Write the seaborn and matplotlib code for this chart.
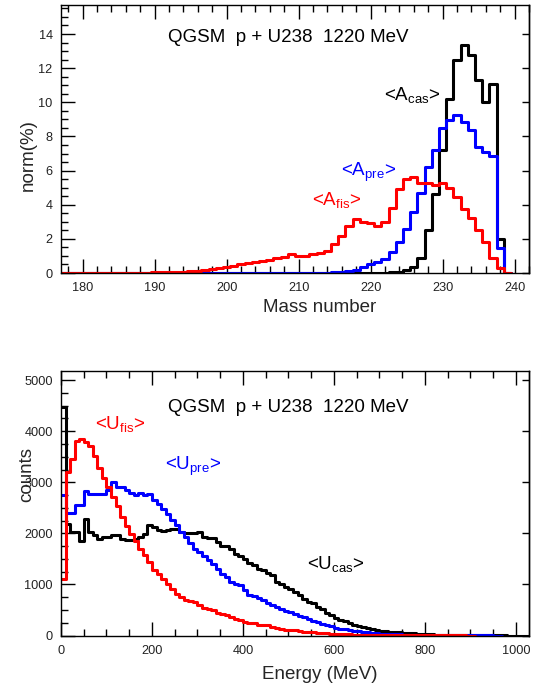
import numpy as np
import pandas as pd
import matplotlib
matplotlib.use("Agg")
import matplotlib.pyplot as plt
import seaborn as sns
from matplotlib.ticker import MultipleLocator

# ---------------- data: top panel (mass distributions, % per unit mass) ----------
mass_centres = list(range(177, 240))          # bin centres, bin width 1
a_fis = [0.0, 0.0, 0.0, 0.0, 0.0, 0.0, 0.0, 0.0, 0.0,              # 177-185
         0.01, 0.01, 0.02, 0.02, 0.03, 0.03, 0.04, 0.05, 0.07, 0.10,  # 186-195
         0.14, 0.18, 0.25, 0.30, 0.37, 0.43, 0.50, 0.56, 0.63, 0.70,  # 196-205
         0.78, 0.86, 0.95, 1.10, 1.02, 1.01, 1.09, 1.15, 1.30, 1.70,  # 206-215
         2.15, 2.75, 3.14, 3.00, 2.90, 2.75, 3.00, 3.80, 4.90, 5.50,  # 216-225
         5.64, 5.30, 5.25, 5.15, 5.25, 4.96, 4.47, 3.75, 3.25, 2.52,  # 226-235
         1.80, 0.88, 0.30, 0.0]                                       # 236-239
a_pre = [0.0] * 36 + [                                                # 177-212
         0.01, 0.02, 0.03, 0.06, 0.12, 0.20, 0.33, 0.50, 0.62, 0.80,  # 213-222
         1.25, 1.83, 2.60, 3.60, 4.70, 6.20, 7.20, 8.50, 8.96, 9.25,  # 223-232
         8.87, 8.40, 7.40, 7.10, 6.85, 1.45, 0.0]                     # 233-239
a_cas = [0.0] * 44 + [                                                # 177-220
         0.01, 0.02, 0.04, 0.08, 0.15, 0.35, 0.90, 2.50, 4.60, 7.20,  # 221-230
         10.2, 12.5, 13.35, 12.8, 11.3, 10.0, 11.1, 2.0, 0.0]         # 231-239

# ---------------- data: bottom panel (excitation energy, counts per 10 MeV) -------
energy_bin = 10
u_fis = [1100, 3200, 3450, 3800, 3850, 3780, 3720, 3520, 3280, 3080,   # 0-90
         2900, 2720, 2540, 2330, 2150, 1980, 1860, 1700, 1570, 1440,   # 100-190
         1280, 1210, 1110, 1010, 915, 820, 755, 700, 670, 660,         # 200-290
         590, 545, 520, 490, 440, 420, 400, 360, 320, 295,             # 300-390
         265, 250, 240, 200, 205, 200, 165, 150, 130, 115,             # 400-490
         110, 100, 85, 75, 68, 60, 52, 45, 40, 35,                     # 500-590
         30, 27, 23, 20, 17, 15, 13, 11, 10, 9,                        # 600-690
         8, 7, 6, 5, 5, 4, 4, 3, 3, 3,                                 # 700-790
         2, 2, 2, 1, 1, 1, 1, 1, 1, 0,                                 # 800-890
         0]                                                            # 900
u_pre = [2745, 2390, 2390, 2560, 2560, 2830, 2765, 2765, 2780, 2765,   # 0-90
         2843, 3006, 2910, 2910, 2843, 2800, 2745, 2800, 2745, 2780,   # 100-190
         2660, 2580, 2484, 2373, 2255, 2157, 2026, 1928, 1810, 1700,   # 200-290
         1634, 1560, 1480, 1405, 1307, 1209, 1144, 1046, 1010, 980,    # 300-390
         882, 800, 770, 740, 686, 640, 590, 560, 523, 480,             # 400-490
         457, 425, 390, 360, 327, 290, 260, 229, 200, 180,             # 500-590
         150, 135, 120, 105, 92, 80, 70, 60, 52, 45,                   # 600-690
         39, 33, 28, 24, 20, 17, 14, 12, 10, 8,                        # 700-790
         7, 6, 5, 4, 3, 3, 2, 2, 2, 1,                                 # 800-890
         1, 1, 1, 1, 1, 0, 0]                                          # 900-960
u_cas = [4470, 2190, 2026, 2026, 1850, 2288, 2026, 1960, 1895, 1928,   # 0-90
         1928, 1974, 1974, 1895, 1876, 1876, 1895, 1928, 1993, 2170,   # 100-190
         2124, 2059, 2050, 2059, 2085, 2080, 2030, 2007, 2007, 2007,   # 200-290
         2030, 1928, 1900, 1900, 1830, 1745, 1745, 1700, 1588, 1549,   # 300-390
         1500, 1420, 1373, 1307, 1280, 1222, 1180, 1046, 1000, 948,    # 400-490
         920, 850, 800, 720, 654, 630, 556, 510, 450, 400,             # 500-590
         350, 310, 280, 240, 215, 190, 165, 145, 120, 105,             # 600-690
         95, 85, 75, 68, 60, 52, 45, 40, 35, 30,                       # 700-790
         26, 22, 18, 15, 12, 10, 8, 7, 6, 5,                           # 800-890
         4, 3, 3, 2, 2, 1, 1, 1, 0, 0,                                 # 900-990
         0, 0, 0]                                                      # 1000-1020

title_text = "QGSM  p + U238  1220 MeV"

# ---------------- style ----------------
sns.set_theme(style="white")
plt.rcParams["font.family"] = ["Liberation Sans", "DejaVu Sans"]
plt.rcParams["mathtext.fontset"] = "custom"
plt.rcParams["mathtext.rm"] = "Liberation Sans"
plt.rcParams["mathtext.it"] = "Liberation Sans"
plt.rcParams["mathtext.default"] = "regular"

W, H = 542, 691
fig = plt.figure(figsize=(W / 100, H / 100), dpi=100)
fig.patch.set_facecolor("white")

ax1 = fig.add_axes([61 / W, 1 - 273 / H, 468 / W, 268 / H])
ax2 = fig.add_axes([61 / W, 1 - 635.5 / H, 468 / W, 264.5 / H])

LW = 2.2


def draw_hist(ax, centres, width, values, color):
    centres = np.asarray(centres, dtype=float)
    df = pd.DataFrame({"x": centres, "w": np.asarray(values, dtype=float)})
    lo = float(centres[0] - width / 2.0)
    hi = float(centres[-1] + width / 2.0)
    sns.histplot(data=df, x="x", weights="w", binwidth=width,
                 binrange=(lo, hi), element="step", fill=False,
                 color=color, linewidth=LW, ax=ax)


# top panel
draw_hist(ax1, mass_centres, 1.0, a_cas, "black")
draw_hist(ax1, mass_centres, 1.0, a_pre, "#0000ff")
draw_hist(ax1, mass_centres, 1.0, a_fis, "#ff0000")

# bottom panel
e_fis = np.arange(len(u_fis)) * energy_bin + energy_bin / 2
e_pre = np.arange(len(u_pre)) * energy_bin + energy_bin / 2
e_cas = np.arange(len(u_cas)) * energy_bin + energy_bin / 2
draw_hist(ax2, e_cas, energy_bin, u_cas, "black")
draw_hist(ax2, e_pre, energy_bin, u_pre, "#0000ff")
draw_hist(ax2, e_fis, energy_bin, u_fis, "#ff0000")

ax1.set_xlim(177, 242)
ax1.set_ylim(0, 15.7)
ax2.set_xlim(0, 1029)
ax2.set_ylim(0, 5180)


def style_axes(ax, xmaj, xmin, ymaj, ymin):
    for sp in ax.spines.values():
        sp.set_visible(True)
        sp.set_color("black")
        sp.set_linewidth(1.0)
    ax.xaxis.set_major_locator(MultipleLocator(xmaj))
    ax.xaxis.set_minor_locator(MultipleLocator(xmin))
    ax.yaxis.set_major_locator(MultipleLocator(ymaj))
    ax.yaxis.set_minor_locator(MultipleLocator(ymin))
    ax.tick_params(which="both", direction="in", top=True, bottom=True,
                   left=True, right=False, color="black", width=1.0,
                   labelsize=9.2, labelcolor="#222222")
    ax.tick_params(which="major", length=10)
    ax.tick_params(which="minor", length=5)
    ax.tick_params(axis="x", pad=6.5)
    ax.tick_params(axis="y", pad=6)
    sec = ax.secondary_yaxis("right")
    sec.yaxis.set_major_locator(MultipleLocator(ymaj))
    sec.tick_params(direction="in", length=5, width=1.0, color="black",
                    labelright=False)
    sec.spines["right"].set_linewidth(1.0)
    sec.spines["right"].set_color("black")


style_axes(ax1, 10, 2, 2, 0.5)
style_axes(ax2, 200, 50, 1000, 250)

ax1.set_xlabel("Mass number", fontsize=13.5)
ax1.set_ylabel("norm(%)", fontsize=13.5)
ax2.set_xlabel("Energy (MeV)", fontsize=13.5)
ax2.set_ylabel("counts", fontsize=13.5)
for ax in (ax1, ax2):
    ax.xaxis.label.set_va("center")
    ax.yaxis.label.set_va("center")
ax1.xaxis.set_label_coords(0.553, -0.127)
ax1.yaxis.set_label_coords(-0.069, 0.44)
ax2.xaxis.set_label_coords(0.553, -0.149)
ax2.yaxis.set_label_coords(-0.073, 0.607)

FS = 13.5
ax1.text(0.2286, 0.8638, title_text, transform=ax1.transAxes, fontsize=FS,
         ha="left", va="baseline", color="black")
ax1.text(0.690, 0.6455, r"<A$_{cas}$>", transform=ax1.transAxes, fontsize=FS,
         ha="left", va="baseline", color="black")
ax1.text(0.598, 0.362, r"<A$_{pre}$>", transform=ax1.transAxes, fontsize=FS,
         ha="left", va="baseline", color="#0000ff")
ax1.text(0.536, 0.2537, r"<A$_{fis}$>", transform=ax1.transAxes, fontsize=FS,
         ha="left", va="baseline", color="#ff0000")

ax2.text(0.2286, 0.845, title_text, transform=ax2.transAxes, fontsize=FS,
         ha="left", va="baseline", color="black")
ax2.text(0.0726, 0.781, r"<U$_{fis}$>", transform=ax2.transAxes, fontsize=FS,
         ha="left", va="baseline", color="#ff0000")
ax2.text(0.222, 0.626, r"<U$_{pre}$>", transform=ax2.transAxes, fontsize=FS,
         ha="left", va="baseline", color="#0000ff")
ax2.text(0.526, 0.251, r"<U$_{cas}$>", transform=ax2.transAxes, fontsize=FS,
         ha="left", va="baseline", color="black")

fig.savefig("out.png", dpi=100)
